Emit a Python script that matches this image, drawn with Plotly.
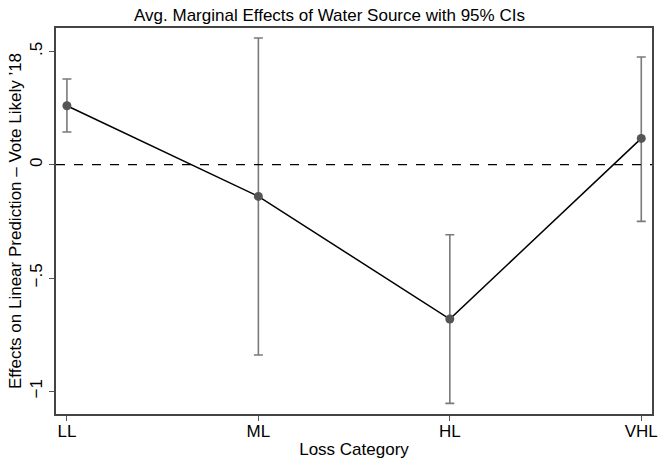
import plotly.graph_objects as go

categories = ["LL", "ML", "HL", "VHL"]
positions = [1, 2, 3, 4]
effects = [0.260, -0.140, -0.681, 0.116]
ci_upper = [0.378, 0.559, -0.309, 0.475]
ci_lower = [0.144, -0.840, -1.053, -0.250]
y_tickvals = [0.5, 0, -0.5, -1]
y_ticktext = [".5", "0", "\u2212.5", "\u22121"]

err_plus = [u - e for u, e in zip(ci_upper, effects)]
err_minus = [e - l for l, e in zip(ci_lower, effects)]

font = "Liberation Sans, Arial, Helvetica, sans-serif"

fig = go.Figure()
fig.add_trace(go.Scatter(
    x=positions, y=effects, mode="lines+markers",
    line=dict(color="black", width=1.5),
    marker=dict(color="#555555", size=9),
    error_y=dict(type="data", symmetric=False, array=err_plus, arrayminus=err_minus,
                 color="#7a7a7a", thickness=1.6, width=4.5),
    showlegend=False,
))
fig.add_hline(y=0, line=dict(color="black", width=1.2, dash="dash"))

fig.update_layout(
    width=659, height=460,
    margin=dict(l=56, r=7, t=28, b=46),
    paper_bgcolor="white", plot_bgcolor="white",
    font=dict(family=font, size=17, color="black"),
    title=dict(text="Avg. Marginal Effects of Water Source with 95% CIs",
               x=0.5, xanchor="center", y=1 - 15 / 460, yanchor="middle",
               font=dict(size=17, family=font, color="black")),
    xaxis=dict(
        range=[0.943, 4.056], tickvals=positions, ticktext=categories,
        ticks="outside", ticklen=5, tickcolor="#555555", tickwidth=1,
        ticklabelstandoff=-4,
        showgrid=False, zeroline=False, automargin=False,
        showline=True, linecolor="#444444", linewidth=1.5, mirror=True,
        title=dict(text="Loss Category", standoff=3, font=dict(size=17)),
        tickfont=dict(size=17),
    ),
    yaxis=dict(
        range=[-1.1, 0.603], tickvals=y_tickvals, ticktext=y_ticktext,
        tickangle=-90,
        ticks="outside", ticklen=5, tickcolor="#555555", tickwidth=1,
        showgrid=False, zeroline=False, automargin=False,
        showline=True, linecolor="#444444", linewidth=1.5, mirror=True,
        title=dict(text="Effects on Linear Prediction \u2013 Vote Likely \u201918",
                   standoff=2, font=dict(size=17)),
        tickfont=dict(size=17),
    ),
)

fig.write_html("out.html", config={"displayModeBar": False},
               post_script="document.body.style.margin='0';document.body.style.overflow='hidden';")
